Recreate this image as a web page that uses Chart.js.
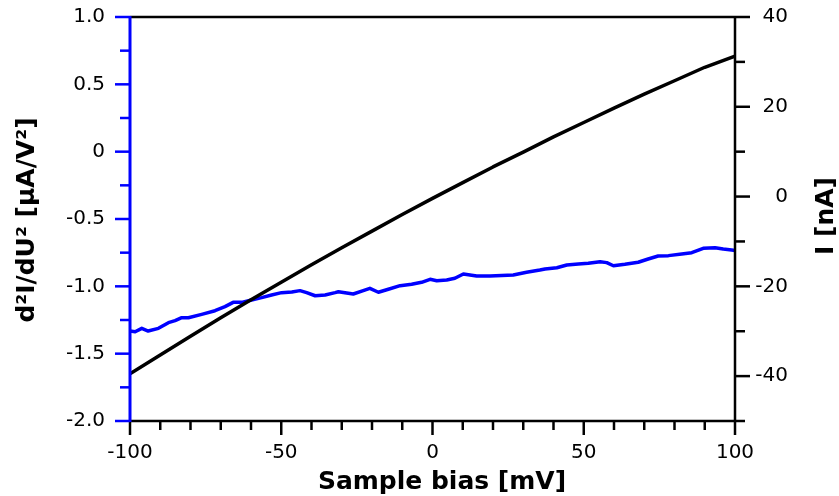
<!DOCTYPE html>
<html>
<head>
<meta charset="utf-8">
<script src="https://cdn.jsdelivr.net/npm/chart.js@4.4.1/dist/chart.umd.min.js"></script>
<style>
  html, body { margin: 0; padding: 0; background: #fff; }
</style>
</head>
<body>
<canvas id="grafico" width="839" height="496"></canvas>
<script>
// corriente I [nA] (eje derecho)
var biasI = [-100, -90, -80, -70, -60, -50, -40, -30, -20, -10, 0, 10, 20, 30, 40, 50, 60, 70, 80, 90, 100];
var currentNA = [-39.5, -35.3, -31.1, -27.0, -23.0, -19.1, -15.2, -11.4, -7.7, -4.0, -0.4, 3.1, 6.6, 9.9, 13.3, 16.5, 19.7, 22.8, 25.8, 28.8, 31.3];

// d2I/dU2 [uA/V2] (eje izquierdo)
var biasD2 = [-100, -98.3, -96.1, -94.0, -90.6, -87.3, -85.1, -82.9, -80.7, -76.3, -71.9, -68.6, -65.9, -63.1, -59.8,
  -56.5, -53.2, -49.9, -46.5, -43.8, -41.6, -38.8, -35.5, -32.2, -31.1, -26.2, -22.9, -20.7, -17.9, -14.6,
  -10.7, -6.9, -3.6, -0.8, 1.4, 4.7, 7.4, 10.2, 14.6, 19.0, 26.7, 31.1, 35.5, 37.2, 41.1,
  44.4, 48.2, 51.5, 55.4, 57.6, 59.8, 63.6, 68.0, 71.3, 74.6, 78.0, 82.4, 85.7, 89.5, 93.4, 96.1, 98.9, 100];
var d2iValues = [-1.332, -1.337, -1.312, -1.332, -1.312, -1.270, -1.255, -1.233, -1.233, -1.208, -1.181, -1.151, -1.119, -1.119, -1.101,
  -1.084, -1.064, -1.047, -1.042, -1.032, -1.047, -1.070, -1.064, -1.047, -1.040, -1.057, -1.032, -1.015, -1.044, -1.022,
  -0.995, -0.985, -0.970, -0.948, -0.958, -0.953, -0.940, -0.908, -0.923, -0.923, -0.916, -0.896, -0.879, -0.871, -0.862,
  -0.842, -0.834, -0.829, -0.817, -0.824, -0.847, -0.836, -0.821, -0.797, -0.775, -0.772, -0.760, -0.750, -0.718, -0.713, -0.723, -0.730, -0.734];

var xTicks = [-100, -50, 0, 50, 100];
var leftTicks = [-2, -1.5, -1, -0.5, 0, 0.5, 1];
var rightTicks = [-40, -20, 0, 20, 40];

var tituloX = 'Sample bias [mV]';
var tituloIzq = 'd²I/dU² [µA/V²]';
var tituloDer = 'I [nA]';

var fuente = 'DejaVu Sans';

function fijarTicks(lista) {
  return function (scale) {
    scale.ticks = lista.map(function (v) { return { value: v }; });
  };
}

function anchoFijo(ancho) {
  return function (scale) {
    scale.width = ancho;
    scale.paddingTop = 0;
    scale.paddingBottom = 0;
  };
}

// marcas de los ejes (mayores y menores) y titulos
var marcasEjes = {
  id: 'marcasEjes',
  afterDraw: function (chart) {
    var ctx = chart.ctx;
    var a = chart.chartArea;
    var sx = chart.scales.x, sl = chart.scales.y, sr = chart.scales.y1;
    var i, v, p, largo;

    function linea(x1, y1, x2, y2, color, ancho) {
      ctx.beginPath();
      ctx.strokeStyle = color;
      ctx.lineWidth = ancho;
      ctx.moveTo(x1, y1);
      ctx.lineTo(x2, y2);
      ctx.stroke();
    }

    function texto(t, x, y, rot) {
      ctx.save();
      ctx.translate(x, y);
      ctx.rotate(rot);
      ctx.fillStyle = '#000';
      ctx.font = 'bold 25px "' + fuente + '"';
      ctx.textAlign = 'center';
      ctx.textBaseline = 'middle';
      ctx.fillText(t, 0, 0);
      ctx.restore();
    }

    ctx.save();
    ctx.lineCap = 'butt';

    // borde superior y eje x
    linea(a.left, a.top, a.right, a.top, '#000', 2.5);
    linea(a.left, a.bottom, a.right, a.bottom, '#000', 2.5);

    for (i = 0; i <= 20; i++) {
      v = -100 + i * 10;
      p = sx.getPixelForValue(v);
      largo = xTicks.indexOf(v) >= 0 ? 14 : 9;
      linea(p, a.bottom, p, a.bottom + largo, '#000', 2.5);
    }

    // eje derecho
    linea(a.right, a.top, a.right, a.bottom, '#000', 2.5);
    for (i = 0; i <= 9; i++) {
      v = -50 + i * 10;
      p = sr.getPixelForValue(v);
      largo = rightTicks.indexOf(v) >= 0 ? 15 : 10;
      linea(a.right, p, a.right + largo, p, '#000', 2.5);
    }

    // eje izquierdo (azul)
    for (i = 0; i <= 12; i++) {
      v = -2 + i * 0.25;
      p = sl.getPixelForValue(v);
      largo = leftTicks.indexOf(v) >= 0 ? 15 : 10;
      linea(a.left - largo, p, a.left, p, '#0000ff', 2.5);
    }
    linea(a.left, a.top - 1, a.left, a.bottom + 1, '#0000ff', 3);
    ctx.restore();

    texto(tituloX, 442, 482, 0);
    texto(tituloIzq, 27, 220, -Math.PI / 2);
    texto(tituloDer, 826, 216, -Math.PI / 2);
  }
};

var ctx = document.getElementById('grafico').getContext('2d');

var grafico = new Chart(ctx, {
  type: 'line',
  data: {
    datasets: [{
        label: 'I',
        data: biasI.map(function (valor, index) {
          return { x: valor, y: currentNA[index] };
        }),
        yAxisID: 'y1',
        borderColor: '#000000',
        borderWidth: 3.5,
        borderJoinStyle: 'round',
        pointRadius: 0,
        fill: false,
        tension: 0,
        order: 0
      },
      {
        label: 'd2I/dU2',
        data: biasD2.map(function (valor, index) {
          return { x: valor, y: d2iValues[index] };
        }),
        yAxisID: 'y',
        borderColor: '#0000ff',
        borderWidth: 3.5,
        borderJoinStyle: 'round',
        pointRadius: 0,
        fill: false,
        tension: 0,
        order: 1
      }
    ]
  },
  options: {
    responsive: false,
    animation: false,
    devicePixelRatio: 1,
    layout: {
      padding: { top: 17, left: 0, right: 51, bottom: 0 }
    },
    plugins: {
      legend: { display: false },
      tooltip: { enabled: false }
    },
    scales: {
      x: {
        type: 'linear',
        position: 'bottom',
        min: -100,
        max: 100,
        afterBuildTicks: fijarTicks(xTicks),
        afterFit: function (scale) {
          scale.height = 75;
          scale.paddingLeft = 0;
          scale.paddingRight = 0;
        },
        border: { display: false },
        grid: { display: false, drawTicks: false },
        ticks: {
          padding: 20,
          color: '#000',
          maxRotation: 0,
          font: { family: fuente, size: 20 }
        }
      },
      y: {
        type: 'linear',
        position: 'left',
        min: -2,
        max: 1,
        afterBuildTicks: fijarTicks(leftTicks),
        afterFit: anchoFijo(130),
        border: { display: false },
        grid: { display: false, drawTicks: false },
        ticks: {
          padding: 25,
          color: '#000',
          font: { family: fuente, size: 20 },
          callback: function (v) { return v === 0 ? '0' : v.toFixed(1); }
        }
      },
      y1: {
        type: 'linear',
        position: 'right',
        min: -50,
        max: 40,
        afterBuildTicks: fijarTicks(rightTicks),
        afterFit: anchoFijo(53),
        border: { display: false },
        grid: { display: false, drawTicks: false },
        ticks: {
          padding: 20,
          crossAlign: 'far',
          color: '#000',
          font: { family: fuente, size: 20 }
        }
      }
    }
  },
  plugins: [marcasEjes]
});
</script>
</body>
</html>
